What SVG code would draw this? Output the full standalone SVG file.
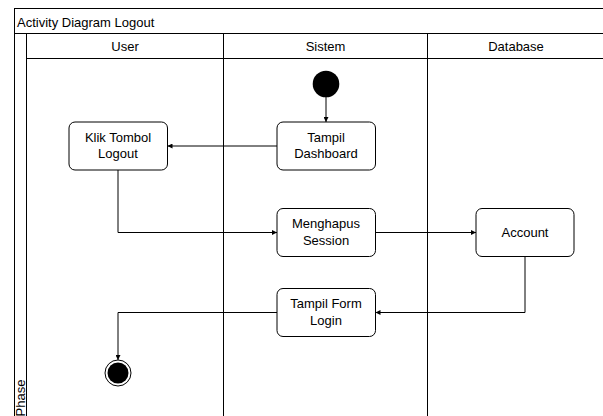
<svg xmlns="http://www.w3.org/2000/svg" width="603" height="416" viewBox="0 0 603 416">
<defs>
<style>
.frame{fill:none;stroke:#000;stroke-width:1}
.node rect{fill:#fff;stroke:#000;stroke-width:1}
text{font-family:"Liberation Sans",Arial,sans-serif;font-size:13px;fill:#000}
.c{text-anchor:middle}
.edge{fill:none;stroke:#000;stroke-width:1;marker-end:url(#arr)}
</style>
<marker id="arr" viewBox="0 0 8 8" refX="8" refY="4" markerWidth="5" markerHeight="5" markerUnits="userSpaceOnUse" orient="auto">
<path d="M0,0 L8,4 L0,8 Z" fill="#000"/>
</marker>
</defs>
<rect width="603" height="416" fill="#fff"/>
<g id="pool">
<rect x="14.5" y="8.5" width="600" height="420" class="frame"/>
<line x1="14.5" y1="33.5" x2="610" y2="33.5" class="frame"/>
<line x1="26.5" y1="33.5" x2="26.5" y2="420" class="frame"/>
<line x1="26.5" y1="58.5" x2="610" y2="58.5" class="frame"/>
<line x1="223.5" y1="33.5" x2="223.5" y2="420" class="frame"/>
<line x1="427.5" y1="33.5" x2="427.5" y2="420" class="frame"/>
<text x="17" y="26.5">Activity Diagram Logout</text>
<text x="125" y="51" class="c">User</text>
<text x="325.5" y="51" class="c">Sistem</text>
<text x="516" y="51" class="c">Database</text>
<text transform="translate(25 398) rotate(-90)" class="c">Phase</text>
</g>
<g id="connectors">
<line x1="326" y1="97" x2="326" y2="122" class="edge"/>
<line x1="277" y1="146" x2="167.5" y2="146" class="edge"/>
<polyline points="118,170 118,232.5 277,232.5" class="edge"/>
<line x1="375.5" y1="232.5" x2="476" y2="232.5" class="edge"/>
<polyline points="525,256.5 525,312.5 375.5,312.5" class="edge"/>
<polyline points="277,312.5 118,312.5 118,360" class="edge"/>
</g>
<g id="start">
<circle cx="326" cy="84" r="13.3" fill="#000"/>
</g>
<g id="klik" class="node">
<rect x="69" y="122" width="98.5" height="48" rx="6"/>
<text x="118" y="141.5" class="c">Klik Tombol</text>
<text x="118" y="158" class="c">Logout</text>
</g>
<g id="dashboard" class="node">
<rect x="277" y="122" width="98.5" height="48" rx="6"/>
<text x="326" y="141.5" class="c">Tampil</text>
<text x="326" y="158" class="c">Dashboard</text>
</g>
<g id="hapus" class="node">
<rect x="277" y="208.5" width="98.5" height="48" rx="6"/>
<text x="326" y="227.5" class="c">Menghapus</text>
<text x="326" y="245" class="c">Session</text>
</g>
<g id="account" class="node">
<rect x="476" y="208.5" width="98" height="48" rx="6"/>
<text x="525" y="236.5" class="c">Account</text>
</g>
<g id="formlogin" class="node">
<rect x="277" y="288.5" width="98.5" height="48" rx="6"/>
<text x="326" y="308" class="c">Tampil Form</text>
<text x="326" y="325" class="c">Login</text>
</g>
<g id="end">
<circle cx="118" cy="373" r="13" fill="#fff" stroke="#000" stroke-width="1"/>
<circle cx="118" cy="373" r="10.5" fill="#000"/>
</g>
</svg>
